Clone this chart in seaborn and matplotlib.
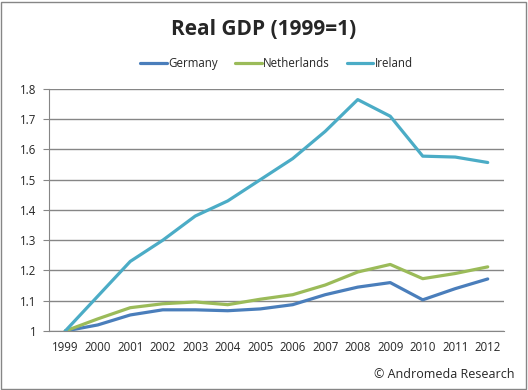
import pandas as pd
import matplotlib
matplotlib.use('Agg')
import matplotlib.pyplot as plt
from matplotlib.patches import Rectangle
import seaborn as sns

years = list(range(1999, 2013))
germany = [1.0, 1.02, 1.053, 1.07, 1.07, 1.067, 1.073, 1.087, 1.12, 1.145, 1.16, 1.103, 1.14, 1.172]
netherlands = [1.0, 1.04, 1.077, 1.09, 1.096, 1.087, 1.105, 1.12, 1.152, 1.195, 1.22, 1.173, 1.19, 1.212]
ireland = [1.0, 1.115, 1.23, 1.30, 1.38, 1.43, 1.50, 1.57, 1.66, 1.765, 1.71, 1.578, 1.575, 1.557]
countries = ['Germany', 'Netherlands', 'Ireland']
colors = ['#4a7ebb', '#9bbb59', '#4bacc6']

df = pd.DataFrame({'year': years, 'Germany': germany, 'Netherlands': netherlands, 'Ireland': ireland})
df = df.melt(id_vars='year', var_name='country', value_name='gdp')

sns.set_style('white')
plt.rcParams['font.family'] = ['Open Sans', 'DejaVu Sans']

fig = plt.figure(figsize=(5.28, 3.9), dpi=100)
ax = fig.add_axes([0.0928, 0.1513, 0.8617, 0.6205])

sns.lineplot(data=df, x='year', y='gdp', hue='country', hue_order=countries,
             palette=colors, linewidth=2.3, ax=ax)

ax.set_xlim(1998.5, 2012.5)
ax.set_ylim(1.0, 1.8)
ax.set_xticks(years)
ax.set_xticklabels([str(y) for y in years], fontsize=8.3)
ax.set_xticks([y + 0.5 for y in range(1998, 2013)], minor=True)
ax.tick_params(axis='x', which='major', length=0, pad=7)
ax.tick_params(axis='x', which='minor', length=4, color='#868686', direction='out')
yt = [1.0, 1.1, 1.2, 1.3, 1.4, 1.5, 1.6, 1.7, 1.8]
ax.set_yticks(yt)
ax.set_yticklabels(['1'] + [f'{v:.1f}' for v in yt[1:]], fontsize=8.3)
ax.tick_params(axis='y', length=4, color='#868686', direction='out', left=True, pad=5)
ax.grid(axis='y', color='#868686', linewidth=1)
ax.set_axisbelow(True)
for s in ['top', 'right']:
    ax.spines[s].set_visible(False)
for s in ['left', 'bottom']:
    ax.spines[s].set_color('#868686')
ax.set_xlabel('')
ax.set_ylabel('')

ax.legend(loc='lower center', bbox_to_anchor=(0.5, 1.035), ncol=3, frameon=False,
          fontsize=8.3, handlelength=2.3, columnspacing=1.5, handletextpad=0.1)

fig.text(0.5, 0.925, 'Real GDP (1999=1)', ha='center', va='center', fontsize=15, fontweight='bold')
fig.text(0.975, 0.04, '© Andromeda Research', ha='right', va='center', fontsize=9)
fig.add_artist(Rectangle((0.002, 0.003), 0.994, 0.992, transform=fig.transFigure,
                         fill=False, edgecolor='#868686', linewidth=1))

fig.savefig('out.png', dpi=100)
